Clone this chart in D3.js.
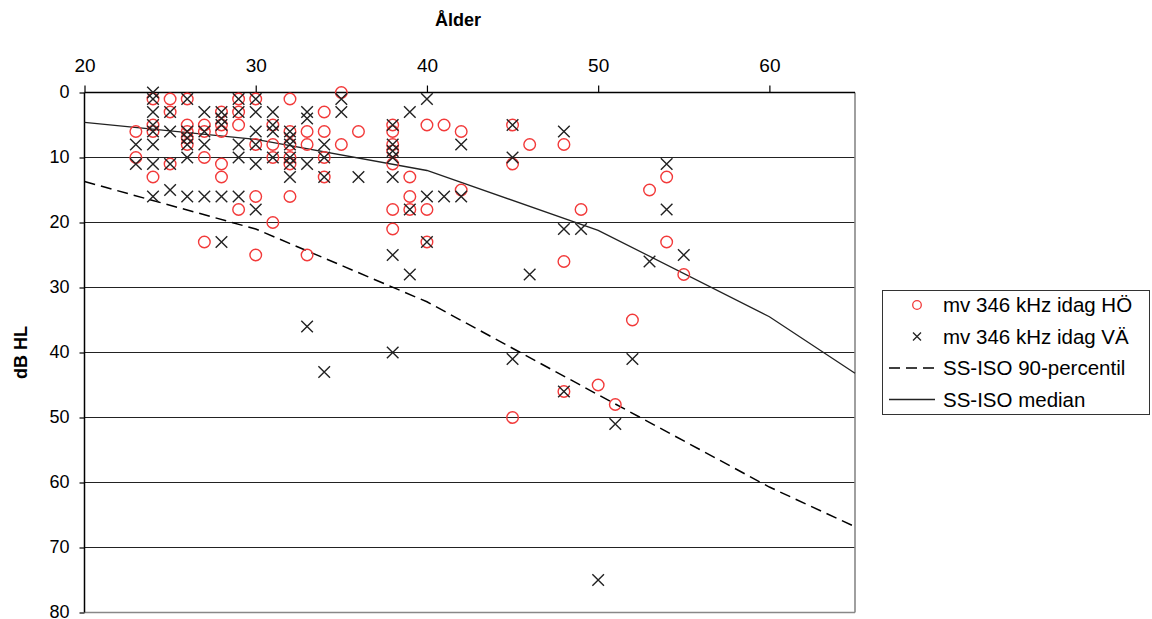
<!DOCTYPE html>
<html>
<head>
<meta charset="utf-8">
<script src="https://cdn.jsdelivr.net/npm/d3@7"></script>
<style>
  html, body { margin: 0; padding: 0; background: #fff; }
  svg { display: block; font-family: "Liberation Sans", Arial, sans-serif; }
</style>
</head>
<body>
<svg id="chart" width="1152" height="619"></svg>
<script>
// ---- data ----
const xTicks = [20, 30, 40, 50, 60];
const yTicks = [0, 10, 20, 30, 40, 50, 60, 70, 80];

// mv 346 kHz idag HÖ (circles): [age, dB HL]
const hoAges = [23,23, 24,24,24,24, 25,25,25, 26,26,26,26,26, 27,27,27,27, 28,28,28,28,28,
  29,29,29,29, 30,30,30,30, 31,31,31,31, 32,32,32,32,32,32, 33,33,33, 34,34,34,34, 35,35, 36,
  38,38,38,38,38,38,38, 39,39,39, 40,40,40, 41, 42,42, 45,45,45, 46, 48,48,48, 49, 50, 51, 52, 53, 54,54, 55];
const hoVals = [6,10, 1,5,6,13, 1,3,11, 1,5,6,7,8, 5,6,10,23, 3,5,6,11,13,
  1,3,5,18, 1,8,16,25, 5,8,10,20, 1,6,8,10,11,16, 6,8,25, 3,6,10,13, 0,8, 6,
  5,6,8,9,11,18,21, 13,16,18, 5,18,23, 5, 6,15, 5,11,50, 8, 8,26,46, 18, 45, 48, 35, 15, 13,23, 28];

// mv 346 kHz idag VÄ (crosses)
const vaAges = [23,23, 24,24,24,24,24,24,24,24, 25,25,25,25, 26,26,26,26,26,26, 27,27,27,27,
  28,28,28,28,28, 29,29,29,29,29, 30,30,30,30,30,30, 31,31,31,31, 32,32,32,32,32,32,
  33,33,33,33, 34,34,34,34, 35,35, 36, 38,38,38,38,38,38,38, 39,39,39, 40,40,40, 41, 42,42,
  45,45,45, 46, 48,48,48, 49, 50, 51, 52, 53, 54,54, 55];
const vaVals = [8,11, 0,1,3,5,6,8,11,16, 3,6,11,15, 1,6,7,8,10,16, 3,6,8,16,
  3,4,5,16,23, 1,3,8,10,16, 1,3,6,8,11,18, 3,5,6,10, 6,7,8,10,11,13,
  3,4,11,36, 8,10,13,43, 1,3, 13, 5,8,9,10,13,25,40, 3,18,28, 1,16,23, 16, 8,16,
  5,10,41, 28, 6,21,46, 21, 75, 51, 41, 26, 11,18, 25];

// SS-ISO curves
const isoAges = [20, 30, 40, 50, 60, 65];
const isoP90 = [13.7, 21, 32.2, 46.5, 60.7, 66.8];
const isoMedian = [4.6, 7.2, 12, 21.2, 34.5, 43.2];

const legendLabels = ["mv 346 kHz idag HÖ", "mv 346 kHz idag VÄ", "SS-ISO 90-percentil", "SS-ISO median"];

// ---- drawing ----
const svg = d3.select("#chart");
const x = d3.scaleLinear().domain([20, 65]).range([84.5, 855]);
const y = d3.scaleLinear().domain([0, 80]).range([92.5, 612.5]);
const FONT = "'Liberation Sans', Arial, sans-serif";

// gridlines
svg.append("g").selectAll("line").data(yTicks.filter(d => d > 0 && d < 80)).join("line")
  .attr("x1", x(20)).attr("x2", x(65))
  .attr("y1", d => y(d)).attr("y2", d => y(d))
  .attr("stroke", "#222").attr("stroke-width", 1.2);

// plot border right/bottom
svg.append("line").attr("x1", x(65)).attr("x2", x(65)).attr("y1", y(0)).attr("y2", y(80))
  .attr("stroke", "#888").attr("stroke-width", 1.6);
svg.append("line").attr("x1", x(20)).attr("x2", x(65)).attr("y1", y(80)).attr("y2", y(80))
  .attr("stroke", "#888").attr("stroke-width", 1.6);

// axes
const topAx = svg.append("g").attr("transform", `translate(0,${y(0)})`)
  .call(d3.axisTop(x).tickValues(xTicks).tickSize(7).tickPadding(14).tickSizeOuter(0));
topAx.select(".domain").remove();
topAx.append("line").attr("x1", x(20)).attr("x2", x(65)).attr("stroke", "#000").attr("stroke-width", 1.5);
topAx.selectAll(".tick line").attr("stroke", "#000").attr("stroke-width", 1.2);
topAx.selectAll(".tick text").attr("font-size", 19).attr("fill", "#000").attr("font-family", FONT);

const leftAx = svg.append("g").attr("transform", `translate(${x(20)},0)`)
  .call(d3.axisLeft(y).tickValues(yTicks).tickSize(5).tickPadding(10).tickSizeOuter(0));
leftAx.select(".domain").remove();
leftAx.append("line").attr("y1", y(0)).attr("y2", y(80)).attr("stroke", "#000").attr("stroke-width", 1.5);
leftAx.selectAll(".tick line").attr("stroke", "#000").attr("stroke-width", 1.2);
leftAx.selectAll(".tick text").attr("font-size", 18).attr("fill", "#000").attr("font-family", FONT)
  .attr("dy", "0.3em");

// axis titles
svg.append("text").attr("x", 458).attr("y", 26)
  .attr("text-anchor", "middle").attr("font-weight", "bold").attr("font-size", 18).text("Ålder");
svg.append("text").attr("transform", `translate(27,${(y(0) + y(80)) / 2}) rotate(-90)`)
  .attr("text-anchor", "middle").attr("font-weight", "bold").attr("font-size", 18).text("dB HL");

// ISO curves
const line = d3.line().x(d => x(d[0])).y(d => y(d[1]));
svg.append("path").datum(isoAges.map((a, i) => [a, isoP90[i]]))
  .attr("d", line).attr("fill", "none").attr("stroke", "#000").attr("stroke-width", 1.5)
  .attr("stroke-dasharray", "11,6");
svg.append("path").datum(isoAges.map((a, i) => [a, isoMedian[i]]))
  .attr("d", line).attr("fill", "none").attr("stroke", "#222").attr("stroke-width", 1.3);

// markers
const R = 5.8, S = 5.8;
const red = "#f23a3a";
svg.append("g").selectAll("circle").data(hoAges.map((a, i) => [a, hoVals[i]])).join("circle")
  .attr("cx", d => x(d[0])).attr("cy", d => y(d[1])).attr("r", R)
  .attr("fill", "none").attr("stroke", red).attr("stroke-width", 1.4);

function cross(sel, s) {
  sel.attr("d", `M${-s},${-s}L${s},${s}M${-s},${s}L${s},${-s}`);
}
svg.append("g").selectAll("path").data(vaAges.map((a, i) => [a, vaVals[i]])).join("path")
  .attr("transform", d => `translate(${x(d[0])},${y(d[1])})`)
  .call(cross, S)
  .attr("fill", "none").attr("stroke", "#222").attr("stroke-width", 1.4);

// legend
const lg = svg.append("g");
lg.append("rect").attr("x", 882.5).attr("y", 290.5).attr("width", 267).attr("height", 124)
  .attr("fill", "#fff").attr("stroke", "#333").attr("stroke-width", 1);
const rowY = i => 305 + i * 31.5;
legendLabels.forEach((t, i) => {
  lg.append("text").attr("x", 943).attr("y", rowY(i)).attr("dy", "0.35em")
    .attr("font-size", 20.5).attr("fill", "#000").text(t);
});
lg.append("circle").attr("cx", 917).attr("cy", rowY(0)).attr("r", 4.3)
  .attr("fill", "none").attr("stroke", red).attr("stroke-width", 1.3);
lg.append("path").attr("transform", `translate(917,${rowY(1)})`).call(cross, 4)
  .attr("fill", "none").attr("stroke", "#222").attr("stroke-width", 1.3);
lg.append("line").attr("x1", 889).attr("x2", 935).attr("y1", rowY(2)).attr("y2", rowY(2))
  .attr("stroke", "#000").attr("stroke-width", 1.5).attr("stroke-dasharray", "11,6");
lg.append("line").attr("x1", 889).attr("x2", 935).attr("y1", rowY(3)).attr("y2", rowY(3))
  .attr("stroke", "#222").attr("stroke-width", 1.3);
</script>
</body>
</html>
